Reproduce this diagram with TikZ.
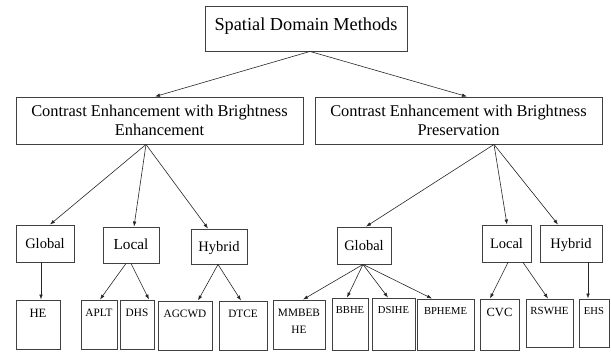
\documentclass[tikz,border=0pt]{standalone}
\usepackage{fontspec}
\setmainfont{Liberation Serif}
\usetikzlibrary{arrows.meta}

\begin{document}
\begin{tikzpicture}[x=1pt, y=-1pt,
    box/.style={draw=black!75, line width=0.9pt, inner sep=0pt, align=center},
    mid/.style={box, text height=10pt, text depth=0pt, font=\fontsize{14.5}{17}\selectfont},
    leaf/.style={box, minimum height=49pt},
    leaftext/.style={anchor=north, inner sep=0pt, yshift=-9pt, align=center, font=\fontsize{11.3}{17}\selectfont},
    link/.style={-{Latex[length=5pt, width=3.6pt]}, line width=0.6pt, draw=black!85}]
    \useasboundingbox (0,0) rectangle (611,352);

    % Root
    \node[box, minimum width=202pt, minimum height=45pt, text depth=9.5pt, font=\fontsize{18.3}{22}\selectfont] (sdm) at (306,28.5) {Spatial Domain Methods};

    % Second level
    \node[box, minimum width=287pt, minimum height=47pt, font=\fontsize{16.4}{19}\selectfont] (cebe) at (159.5,120.5) {Contrast Enhancement with Brightness\\Enhancement};
    \node[box, minimum width=287pt, minimum height=47pt, font=\fontsize{16.4}{19}\selectfont] (cebp) at (458.5,120.5) {Contrast Enhancement with Brightness\\Preservation};

    % Third level
    \node[mid, minimum width=58pt, minimum height=37pt] (glob1) at (45,243.5) {Global};
    \node[mid, minimum width=56pt, minimum height=36pt, font=\fontsize{15.3}{18}\selectfont] (loc1) at (131,245) {Local};
    \node[mid, minimum width=56pt, minimum height=35pt] (hyb1) at (219,246.5) {Hybrid};
    \node[mid, minimum width=54pt, minimum height=37pt] (glob2) at (364,245.5) {Global};
    \node[mid, minimum width=49pt, minimum height=37pt] (loc2) at (506.5,243.5) {Local};
    \node[mid, minimum width=62pt, minimum height=37pt] (hyb2) at (571,243.5) {Hybrid};

    % Methods
    \node[leaf, minimum width=44pt, label={[leaftext, font=\fontsize{12.7}{15}\selectfont]north:HE}] (he) at (38,324.5) {};
    \node[leaf, minimum width=36pt, label={[leaftext]north:APLT}] (aplt) at (99,324.5) {};
    \node[leaf, minimum width=34pt, label={[leaftext]north:DHS}] (dhs) at (137,324.5) {};
    \node[leaf, minimum width=54pt, label={[leaftext]north:AGCWD}] (agcwd) at (185,325.5) {};
    \node[leaf, minimum width=48pt, label={[leaftext]north:DTCE}] (dtce) at (243,325.5) {};
    \node[leaf, minimum width=52pt, label={[leaftext]north:MMBEB\\HE}] (mmbeb) at (299,324.5) {};
    \node[leaf, minimum width=36pt, minimum height=52pt, label={[leaftext, font=\fontsize{10.6}{13}\selectfont]north:BBHE}] (bbhe) at (350,324) {};
    \node[leaf, minimum width=43pt, minimum height=52pt, label={[leaftext, font=\fontsize{10.6}{13}\selectfont]north:DSIHE}] (dsihe) at (393.5,324) {};
    \node[leaf, minimum width=57pt, minimum height=51pt, label={[leaftext, font=\fontsize{10.6}{13}\selectfont]north:BPHEME}] (bpheme) at (445.5,324.5) {};
    \node[leaf, minimum width=39pt, minimum height=51pt, label={[leaftext, font=\fontsize{12.5}{15}\selectfont]north:CVC}] (cvc) at (499.5,324.5) {};
    \node[leaf, minimum width=47pt, minimum height=48pt, label={[leaftext, font=\fontsize{10.9}{13}\selectfont]north:RSWHE}] (rswhe) at (549.5,323) {};
    \node[leaf, minimum width=30pt, minimum height=48pt, label={[leaftext, font=\fontsize{10.6}{13}\selectfont]north:EHS}] (ehs) at (594,323) {};

    % Root to second level
    \draw[link] ([xshift=4pt]sdm.south) -- ([xshift=-4.5pt]cebe.north);
    \draw[link] ([xshift=4pt]sdm.south) -- ([xshift=8.5pt]cebp.north);

    % Second to third level
    \draw[link] ([xshift=-13.5pt]cebe.south) -- ([xshift=5pt]glob1.north);
    \draw[link] ([xshift=-13.5pt]cebe.south) -- ([xshift=3pt]loc1.north);
    \draw[link] ([xshift=-13.5pt]cebe.south) -- ([xshift=-11pt]hyb1.north);
    \draw[link] ([xshift=35.5pt]cebp.south) -- ([xshift=2pt]glob2.north);
    \draw[link] ([xshift=35.5pt]cebp.south) -- ([xshift=0.5pt]loc2.north);
    \draw[link] ([xshift=35.5pt]cebp.south) -- ([xshift=-13pt]hyb2.north);

    % Third level to methods
    \draw[link] ([xshift=-4pt]glob1.south) -- ([xshift=3pt]he.north);
    \draw[link] ([xshift=-5pt]loc1.south) -- ([xshift=1pt]aplt.north);
    \draw[link] (loc1.south) -- ([xshift=12pt]dhs.north);
    \draw[link] ([xshift=-1pt]hyb1.south) -- ([xshift=13pt]agcwd.north);
    \draw[link] ([xshift=-1pt]hyb1.south) -- ([xshift=-2pt]dtce.north);
    \draw[link] ([xshift=-1pt]glob2.south) -- ([xshift=4pt]mmbeb.north);
    \draw[link] ([xshift=-1pt]glob2.south) -- ([xshift=-3pt]bbhe.north);
    \draw[link] ([xshift=-1pt]glob2.south) -- ([xshift=-5.5pt]dsihe.north);
    \draw[link] ([xshift=-1pt]glob2.south) -- ([xshift=-13.5pt]bpheme.north);
    \draw[link] ([xshift=1.5pt]loc2.south) -- ([xshift=-9.5pt]cvc.north);
    \draw[link] ([xshift=16.5pt]loc2.south) -- ([xshift=-1.5pt]rswhe.north);
    \draw[link] ([xshift=17pt]hyb2.south) -- ([xshift=-6pt]ehs.north);
\end{tikzpicture}
\end{document}
